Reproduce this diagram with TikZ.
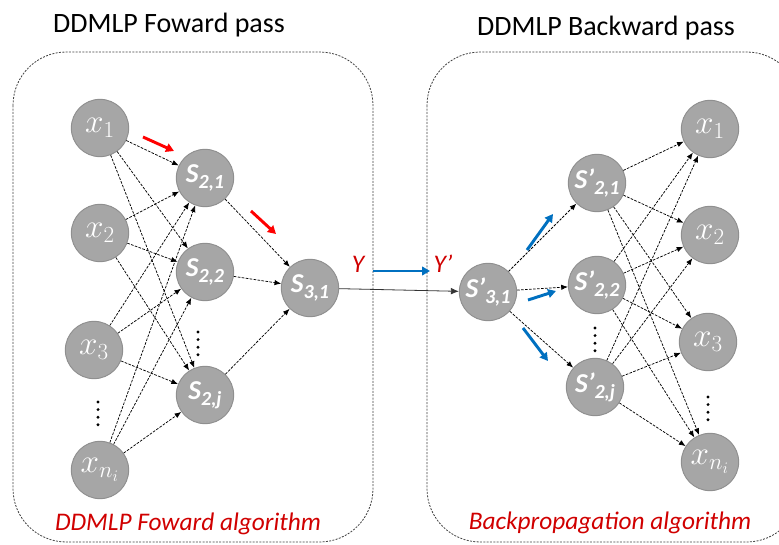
\documentclass[tikz,border=0pt]{standalone}
\usepackage{fontspec}
\setmainfont{Carlito}
\usetikzlibrary{arrows.meta}
\definecolor{cell-gray}{HTML}{A6A6A6}
\definecolor{cell-edge}{HTML}{8F8F8F}
\definecolor{flow-red}{HTML}{FF0000}
\definecolor{note-red}{HTML}{D00000}
\definecolor{flow-blue}{HTML}{0070C0}
\newcommand{\sidx}[1]{\raisebox{-0.45ex}{\fontsize{15}{15}\selectfont #1}}

\begin{document}
\begin{tikzpicture}[x=0.75pt, y=-0.75pt,
    neuron/.style={circle, draw=cell-edge, line width=0.7pt, fill=cell-gray,
      minimum size=43pt, inner sep=0pt, text=white},
    xlab/.style={neuron, font=\fontsize{23}{23}\selectfont},
    slab/.style={neuron, font=\bfseries\itshape\fontsize{20.5}{20.5}\selectfont},
    link/.style={dash pattern=on 2pt off 1pt, line width=0.55pt,
      -{Latex[length=5pt,width=4pt]}},
    panel/.style={draw=black!75, dash pattern=on 1.5pt off 1pt, line width=0.6pt,
      rounded corners=40pt},
    hint/.style={line width=2.2pt, -{Triangle[length=6pt,width=6.5pt]}},
    title/.style={font=\fontsize{21}{21}\selectfont},
    note/.style={text=note-red, font=\itshape\fontsize{19}{19}\selectfont}]
  \useasboundingbox (0,0) rectangle (779,545);

  % panels and headings
  \draw[panel] (13,52) rectangle (373,542);
  \draw[panel] (427,52) rectangle (800,542);
  \node[title] (fwdtitle) at (169,25) {DDMLP Foward pass};
  \node[title] (bwdtitle) at (606,28) {DDMLP Backward pass};
  \node[note] (fwdnote) at (188,524) {DDMLP Foward algorithm};
  \node[note] (bwdnote) at (610,523) {Backpropagation algorithm};

  % forward network
  \node[xlab] (x1) at (100,128) {$x_1$};
  \node[xlab] (x2) at (100,233) {$x_2$};
  \node[xlab] (x3) at (94,350) {$x_3$};
  \node[xlab] (xn) at (100,470) {$x_{n_i}$};
  \node[slab] (s21) at (205,178) {S\sidx{2,1}};
  \node[slab] (s22) at (205,272) {S\sidx{2,2}};
  \node[slab] (s2j) at (205,395) {S\sidx{2,j}};
  \node[slab] (s31) at (310,288) {S\sidx{3,1}};

  \foreach \a in {x1,x2,x3,xn}
    \foreach \b in {s21,s22,s2j}
      \draw[link] (\a) -- (\b);
  \foreach \b in {s21,s22,s2j}
    \draw[link] (\b) -- (s31);

  % backward network
  \node[slab] (r31) at (488,292) {S'\sidx{3,1}};
  \node[slab] (r21) at (597,183) {S'\sidx{2,1}};
  \node[slab] (r22) at (597,285) {S'\sidx{2,2}};
  \node[slab] (r2j) at (595,387) {S'\sidx{2,j}};
  \node[xlab] (y1) at (710,129) {$x_1$};
  \node[xlab] (y2) at (710,235) {$x_2$};
  \node[xlab] (y3) at (708,342) {$x_3$};
  \node[xlab] (yn) at (710,462) {$x_{n_i}$};

  \foreach \b in {r21,r22,r2j}
    \draw[link] (r31) -- (\b);
  \foreach \a in {r21,r22,r2j}
    \foreach \b in {y1,y2,y3,yn}
      \draw[link] (\a) -- (\b);

  % vertical ellipses
  \foreach \px/\py in {98/402, 198/332, 595/328, 708/397}
    \foreach \k in {0,...,3}
      \fill (\px,\py+7.6*\k) circle (1.2pt);

  % output hand-over
  \draw[line width=0.6pt, black!80, -{Latex[length=6pt,width=5pt]}] (s31) -- (r31);
  \node[note] (yout) at (358,264) {Y};
  \node[note] (yin) at (443,264) {Y’};
  \draw[hint, flow-blue] (373,271) -- (430,271);

  % direction hints
  \draw[hint, flow-red] (143,137) -- (174,151);
  \draw[hint, flow-red] (251,211) -- (276,234);
  \draw[hint, flow-blue] (527,250) -- (553,214);
  \draw[hint, flow-blue] (528,300) -- (556,291);
  \draw[hint, flow-blue] (523,328) -- (548,361);
\end{tikzpicture}
\end{document}
